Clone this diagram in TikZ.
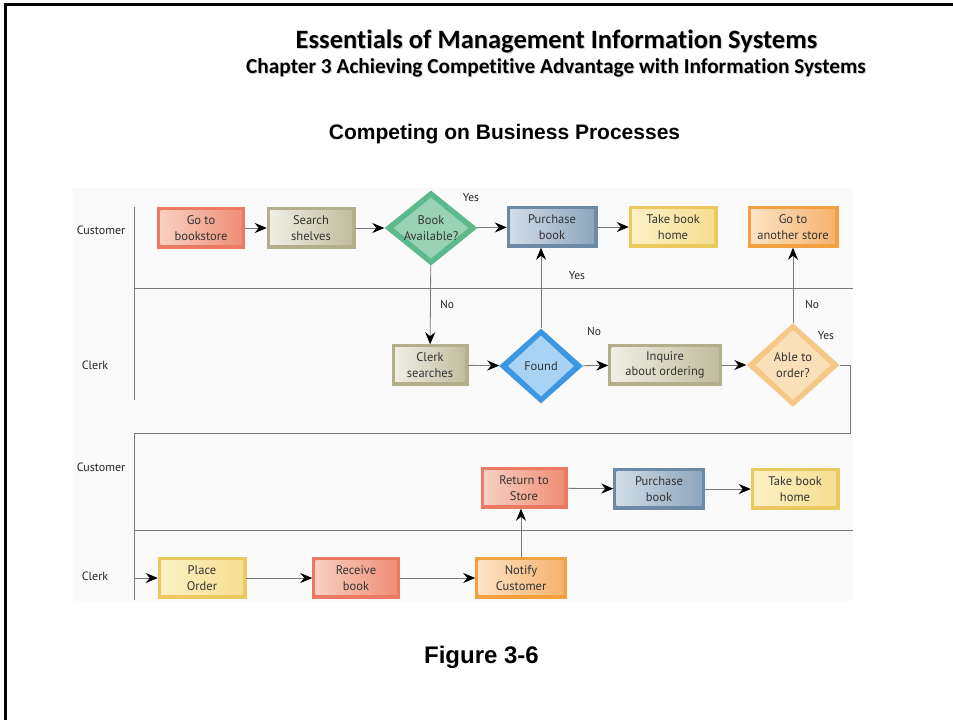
\documentclass[tikz,border=0pt]{standalone}
\usepackage{fontspec}
\setmainfont{PT Sans}
\newfontfamily\titlefont{Carlito}[Ligatures=NoCommon]
\newfontfamily\headfont{Liberation Sans}
\usetikzlibrary{positioning,arrows.meta,shapes.geometric}

\definecolor{lanegray}{HTML}{7A7A7A}
\definecolor{redF}{HTML}{EC7A62}
\definecolor{redL}{HTML}{F8D2C4}
\definecolor{redD}{HTML}{EE8C72}
\definecolor{oliveF}{HTML}{B3AF8C}
\definecolor{oliveL}{HTML}{F1F0E6}
\definecolor{oliveD}{HTML}{BFBB9B}
\definecolor{blueF}{HTML}{6C89A5}
\definecolor{blueL}{HTML}{D3DEE8}
\definecolor{blueD}{HTML}{8BA4BC}
\definecolor{yellowF}{HTML}{EACA5E}
\definecolor{yellowL}{HTML}{FCF1C6}
\definecolor{yellowD}{HTML}{F6DE90}
\definecolor{orangeF}{HTML}{F3A040}
\definecolor{orangeL}{HTML}{FDE5C8}
\definecolor{orangeD}{HTML}{F6B06A}
\definecolor{greenF}{HTML}{5DB88B}
\definecolor{greenL}{HTML}{9AD2B5}
\definecolor{skyF}{HTML}{3C97E2}
\definecolor{skyL}{HTML}{A8D3F4}
\definecolor{peachF}{HTML}{F4C987}
\definecolor{peachL}{HTML}{FAE0B8}

\tikzset{
  procbox/.style n args={3}{rectangle, draw=#1, fill=#1, line width=0.5pt,
    minimum height=41pt, inner sep=1pt, align=center, text=black!80,
    font=\fontsize{12.5}{15.5}\selectfont,
    path picture={\fill[left color=#2, right color=#3]
      ([shift={(3pt,-3pt)}]path picture bounding box.north west) rectangle
      ([shift={(-3pt,4pt)}]path picture bounding box.south east);}},
  redbox/.style={procbox={redF}{redL}{redD}},
  olivebox/.style={procbox={oliveF}{oliveL}{oliveD}},
  bluebox/.style={procbox={blueF}{blueL}{blueD}},
  yellowbox/.style={procbox={yellowF}{yellowL}{yellowD}},
  orangebox/.style={procbox={orangeF}{orangeL}{orangeD}},
  decision/.style n args={2}{diamond, draw=none, fill=#1, aspect=1.25,
    minimum width=93pt, minimum height=75pt, inner sep=0pt, align=center,
    text=black!80, font=\fontsize{12.5}{15.5}\selectfont,
    path picture={\fill[#2]
      ([yshift=-7pt]path picture bounding box.north) --
      ([xshift=-9pt]path picture bounding box.east) --
      ([yshift=7pt]path picture bounding box.south) --
      ([xshift=9pt]path picture bounding box.west) -- cycle;}},
  flow/.style={draw=lanegray, line width=0.8pt,
    -{Stealth[length=12pt,width=10pt,inset=4pt,color=black]}},
  lane/.style={draw=lanegray, line width=1pt},
  lanelabel/.style={font=\fontsize{12}{14}\selectfont, text=black!85},
  answer/.style={font=\fontsize{11.5}{13}\selectfont, text=black!85}
}

\begin{document}
\begin{tikzpicture}[x=1pt, y=-1pt]
  \useasboundingbox (0,0) rectangle (953,720);
  % frame and headings
  \draw[line width=3pt] (5,720) -- (5,4.5) -- (953,4.5);
  \node[font=\titlefont\bfseries\fontsize{26.5}{30}\selectfont, text=black!20] at (557.5,42) {Essentials of Management Information Systems};
  \node[font=\titlefont\bfseries\fontsize{26.5}{30}\selectfont] (title) at (556.5,41) {Essentials of Management Information Systems};
  \node[font=\titlefont\bfseries\fontsize{21.3}{24}\selectfont, text=black!20] at (557,69) {Chapter 3 Achieving Competitive Advantage with Information Systems};
  \node[font=\titlefont\bfseries\fontsize{21.3}{24}\selectfont] (chapter) at (556,68) {Chapter 3 Achieving Competitive Advantage with Information Systems};
  \node[font=\headfont\bfseries\fontsize{21}{24}\selectfont] (heading) at (504.5,134) {Competing on Business Processes};
  \node[font=\headfont\bfseries\fontsize{24}{28}\selectfont] (figno) at (481.5,657) {Figure 3-6};

  % swim lanes
  \fill[black!2] (73,188) rectangle (853,601);
  \draw[lane] (134,207) -- (134,400);
  \draw[lane] (134,288) -- (853,288);
  \draw[lane] (134,433) -- (134,600);
  \draw[lane] (134,530) -- (853,530);
  \node[lanelabel] (cust1) at (101,230) {Customer};
  \node[lanelabel] (clerk1) at (95,365) {Clerk};
  \node[lanelabel] (cust2) at (101,467) {Customer};
  \node[lanelabel] (clerk2) at (95,576) {Clerk};

  % first visit
  \node[redbox, minimum width=87pt] (go) at (201,228) {Go to\\bookstore};
  \node[olivebox, minimum width=88pt] (search) at (311,228) {Search\\shelves};
  \node[decision={greenF}{greenL}] (avail) at (431,228) {Book\\Available?};
  \node[bluebox, minimum width=90pt] (buy) at (552,227) {Purchase\\book};
  \node[yellowbox, minimum width=88pt] (home) at (673,227) {Take book\\home};
  \node[orangebox, minimum width=90pt] (other) at (793,227) {Go to\\another store};
  \node[olivebox, minimum width=76pt] (csearch) at (430,365) {Clerk\\searches};
  \node[decision={skyF}{skyL}, minimum width=84pt] (found) at (541,366) {Found};
  \node[olivebox, minimum width=113pt] (inquire) at (665,365) {Inquire\\about ordering};
  \node[decision={peachF}{peachL}, minimum height=84pt] (able) at (793,365) {Able to\\order?};

  % second visit
  \node[yellowbox, minimum width=88pt] (place) at (202,578) {Place\\Order};
  \node[redbox, minimum width=87pt] (receive) at (356,578) {Receive\\book};
  \node[orangebox, minimum width=91pt] (notify) at (521,578) {Notify\\Customer};
  \node[redbox, minimum width=86pt] (return) at (524,488) {Return to\\Store};
  \node[bluebox, minimum width=91pt] (buy2) at (659,489) {Purchase\\book};
  \node[yellowbox, minimum width=88pt] (home2) at (795,489) {Take book\\home};

  \coordinate (loopR) at (850,433);
  \coordinate (loopL) at (134,433);

  % connectors
  \draw[flow] (go) -- (search);
  \draw[flow] (search) -- (avail);
  \draw[flow] (avail) -- (buy);
  \draw[flow] (buy) -- (home);
  \draw[flow] (avail) -- (csearch);
  \draw[flow] (csearch) -- (found);
  \draw[flow] (found.north) -- (found.north |- buy.south);
  \draw[flow] (found) -- (inquire);
  \draw[flow] (inquire) -- (able);
  \draw[flow] (able) -- (other);
  \draw[flow] (able.east) -| (loopR) -- (loopL) |- (place.west);
  \draw[flow] (place) -- (receive);
  \draw[flow] (receive) -- (notify);
  \draw[flow] (notify.north) -- (notify.north |- return.south);
  \draw[flow] (return) -- (buy2);
  \draw[flow] (buy2) -- (home2);

  % answers
  \node[answer] (yes1) at (471,198) {Yes};
  \node[answer] (no1) at (447,304) {No};
  \node[answer] (yes2) at (577,276) {Yes};
  \node[answer] (no2) at (594,331) {No};
  \node[answer] (no3) at (812,304) {No};
  \node[answer] (yes3) at (826,336) {Yes};
\end{tikzpicture}
\end{document}
